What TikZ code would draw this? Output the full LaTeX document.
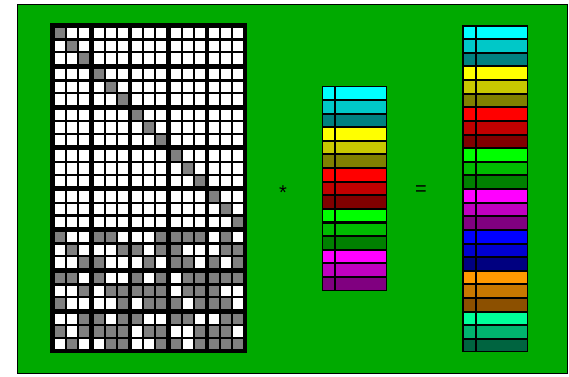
\documentclass[tikz,border=0pt]{standalone}
\usepackage{fontspec}
\setmainfont{Liberation Sans}
\usepackage{tikz}
\usetikzlibrary{positioning}
\usepackage{xcolor}
\definecolor{bggreen}{HTML}{00AA00}
\definecolor{cellgray}{HTML}{808080}
\definecolor{cyanA}{HTML}{00FFFF}
\definecolor{cyanB}{HTML}{00C8C8}
\definecolor{cyanC}{HTML}{008080}
\definecolor{yellowA}{HTML}{FFFF00}
\definecolor{yellowB}{HTML}{C8C800}
\definecolor{yellowC}{HTML}{808000}
\definecolor{redA}{HTML}{FF0000}
\definecolor{redB}{HTML}{C00000}
\definecolor{redC}{HTML}{800000}
\definecolor{greenA}{HTML}{00FF00}
\definecolor{greenB}{HTML}{00BC00}
\definecolor{greenC}{HTML}{008000}
\definecolor{magentaA}{HTML}{FF00FF}
\definecolor{magentaB}{HTML}{C000C0}
\definecolor{magentaC}{HTML}{800080}
\definecolor{blueA}{HTML}{0000FF}
\definecolor{blueB}{HTML}{0000D0}
\definecolor{blueC}{HTML}{000080}
\definecolor{orangeA}{HTML}{FF9900}
\definecolor{orangeB}{HTML}{C87800}
\definecolor{orangeC}{HTML}{8C5000}
\definecolor{springA}{HTML}{00FF99}
\definecolor{springB}{HTML}{00B46E}
\definecolor{springC}{HTML}{006440}

% one cell of the block matrix: row, column, style
\newcommand{\matcell}[3]{%
  \pgfmathsetmacro{\cx}{55+38.5*int(#2/3)+12*mod(#2,3)}%
  \pgfmathsetmacro{\cy}{28+40.8*int(#1/3)+12.7*mod(#1,3)}%
  \fill[#3] (\cx,\cy) rectangle ++(10,10.4);}
% one entry of a vector: left edge, top edge, index, colour
\newcommand{\veccell}[4]{%
  \pgfmathsetmacro{\vy}{#2+13.62*#3}%
  \fill[#4] (#1,\vy) rectangle ++(11.2,11.6);
  \fill[#4] (#1+13,\vy) rectangle ++(50,11.6);}

\begin{document}
\begin{tikzpicture}[x=1pt, y=-1pt,
  cell0/.style={fill=white},
  cell1/.style={fill=cellgray},
  op/.style={font=\fontsize{20}{20}\selectfont, inner sep=0pt}]
  \useasboundingbox (0,0) rectangle (569,376);

  % Background
  \draw[fill=bggreen, line width=0.6pt] (17,4) rectangle (567,373);

  % Block matrix, 8 x 5 blocks of 3 x 3
  \fill[black] (50,23) rectangle (247,353);
  \foreach \m in {0,...,23}
    \foreach \k in {0,...,14}
      \matcell{\m}{\k}{cell0};
  % diagonal blocks
  \foreach \m in {0,...,14}
    \matcell{\m}{\m}{cell1};
  % dense blocks
  \foreach \m/\bits in {
      15/{1,0,0,1,1,0,0,0,1,1,1,1,0,1,0},
      16/{0,1,0,0,0,1,1,0,1,1,0,0,0,1,1},
      17/{0,0,1,1,0,0,0,1,0,1,1,0,1,0,1},
      18/{1,1,0,1,0,0,1,0,1,0,1,1,1,1,1},
      19/{0,0,1,0,1,1,1,1,1,0,1,1,1,0,0},
      20/{1,0,0,0,0,1,0,1,1,1,0,1,1,1,0},
      21/{0,0,1,1,0,1,1,0,0,1,1,0,0,1,1},
      22/{1,0,1,1,1,1,0,1,1,0,0,1,1,1,0},
      23/{0,1,0,0,1,1,0,0,1,1,0,1,1,1,1}}
    \foreach \b [count=\k from 0] in \bits
      \matcell{\m}{\k}{cell\b};

  % Input vector
  \fill[black] (321.7,85.7) rectangle (386.7,290.7);
  \foreach \col [count=\n from 0] in {cyanA,cyanB,cyanC,yellowA,yellowB,yellowC,
      redA,redB,redC,greenA,greenB,greenC,magentaA,magentaB,magentaC}
    \veccell{323}{87.3}{\n}{\col};

  % Result vector
  \fill[black] (462.3,25) rectangle (527.7,351.7);
  \foreach \col [count=\n from 0] in {cyanA,cyanB,cyanC,yellowA,yellowB,yellowC,
      redA,redB,redC,greenA,greenB,greenC,magentaA,magentaB,magentaC,
      blueA,blueB,blueC,orangeA,orangeB,orangeC,springA,springB,springC}
    \veccell{463.5}{26.6}{\n}{\col};

  % Operators
  \node[op] (times) at (283,193) {*};
  \node[op] (equals) at (421,191) {=};
\end{tikzpicture}
\end{document}
